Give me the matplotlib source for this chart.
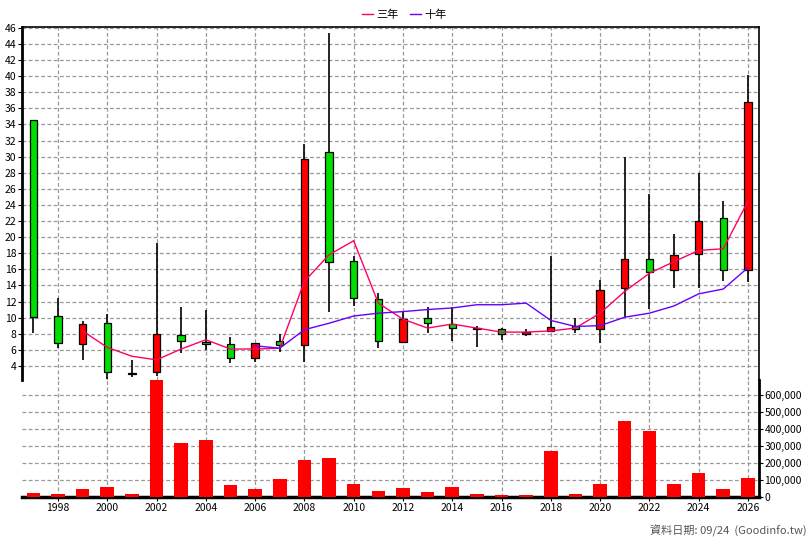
import matplotlib
matplotlib.use("Agg")
import matplotlib.pyplot as plt
from matplotlib.ticker import FuncFormatter

plt.rcParams['font.family'] = ['Noto Sans CJK TC', 'DejaVu Sans']

years = list(range(1997, 2027))
opens = [34.6, 10.2, 6.7, 9.35, 3.1, 3.2, 7.8, 7.0, 6.7, 5.0, 7.1, 6.6, 30.6, 17.0, 12.3,
         7.0, 9.9, 9.2, 8.75, 8.55, 7.95, 8.35, 8.9, 8.55, 13.65, 17.3, 15.9, 17.9, 22.4, 15.9]
closes = [10.1, 6.8, 9.2, 3.2, 3.05, 7.95, 7.1, 6.7, 5.0, 6.8, 6.55, 29.7, 16.9, 12.4, 7.1,
          9.8, 9.3, 8.7, 8.6, 7.95, 8.2, 8.8, 8.55, 13.45, 17.3, 15.65, 17.8, 22.0, 15.9, 36.8]
highs = [34.6, 12.4, 9.6, 10.5, 4.75, 19.3, 11.3, 11.0, 7.6, 6.9, 8.0, 31.6, 45.4, 17.6, 13.0,
         10.75, 11.3, 11.3, 8.95, 8.7, 8.6, 17.6, 9.9, 14.7, 30.0, 25.3, 20.4, 28.0, 24.5, 40.1]
lows = [8.1, 6.2, 4.75, 2.35, 2.6, 2.7, 5.6, 6.0, 4.35, 4.5, 5.75, 4.5, 10.75, 11.5, 6.2,
        7.0, 8.05, 7.15, 6.4, 7.2, 7.7, 8.2, 8.05, 6.8, 10.1, 11.1, 13.65, 13.65, 14.5, 14.4]
ma3_years = list(range(1999, 2027))
ma3 = [8.35, 6.3, 5.2, 4.75, 6.1, 7.25, 6.1, 6.1, 6.2, 14.5, 17.8, 19.55, 11.8, 9.8, 8.7,
       9.2, 8.7, 8.2, 8.2, 8.35, 8.7, 10.55, 13.25, 15.5, 16.95, 18.35, 18.55, 24.45]
ma10_years = list(range(2006, 2027))
ma10 = [6.5, 6.2, 8.5, 9.3, 10.2, 10.55, 10.75, 11.0, 11.2, 11.6, 11.6, 11.8, 9.65, 8.9,
        9.0, 10.05, 10.55, 11.45, 12.95, 13.55, 16.2]
volume = [23000, 15000, 45000, 58000, 15000, 688000, 315000, 332000, 70000, 45000, 105000,
          215000, 227000, 75000, 35000, 52000, 28000, 58000, 17000, 10000, 10000, 268000,
          17000, 75000, 443000, 385000, 75000, 140000, 45000, 110000]

fig = plt.figure(figsize=(8.08, 5.4), dpi=100)
W, H = 808, 540
ax = fig.add_axes([22 / W, 1 - 380 / H, 737 / W, 353 / H])
axv = fig.add_axes([22 / W, 1 - 497 / H, 737 / W, 117 / H], sharex=ax)
axv.patch.set_alpha(0)

grid = dict(color='#999999', linestyle=(0, (3, 2)), linewidth=0.9)
for a in (ax, axv):
    a.grid(True, **grid)
    a.set_axisbelow(True)
    a.tick_params(labelsize=7.5, length=3, pad=1)

for y, o, c, h, l in zip(years, opens, closes, highs, lows):
    ax.vlines(y, l, h, color='black', linewidth=1.2, zorder=3)
    col = '#ff0000' if c > o else '#00dd00'
    ax.bar(y, abs(c - o) if abs(c - o) > 0.1 else 0.1, width=0.3, bottom=min(o, c),
           color=col, edgecolor='black', linewidth=0.9, zorder=4)

ax.plot(ma3_years, ma3, color='#ff0066', linewidth=1, label='三年', zorder=5)
ax.plot(ma10_years, ma10, color='#6600ff', linewidth=1, label='十年', zorder=5)

ax.set_xlim(1996.54, 2026.45)
ax.set_ylim(2.25, 46.1)
ax.set_yticks(range(4, 47, 2))
ax.set_xticks(range(1998, 2027, 2))
ax.tick_params(labelbottom=False, bottom=False)
ax.spines['bottom'].set_visible(False)
ax.spines['top'].set_linewidth(1.2)
ax.spines['right'].set_linewidth(1.2)
ax.spines['left'].set_linewidth(2)

axv.bar(years, volume, width=0.55, color='#ff0000', zorder=3)
axv.set_ylim(0, 685000)
axv.set_yticks(range(0, 600001, 100000))
axv.yaxis.tick_right()
axv.yaxis.set_major_formatter(FuncFormatter(lambda v, p: f'{int(v):,}'))
axv.spines['left'].set_visible(False)
axv.spines['top'].set_visible(False)
axv.spines['bottom'].set_linewidth(2.5)
axv.spines['right'].set_linewidth(2)

fig.legend(loc='upper center', bbox_to_anchor=(0.5, 1.0), ncol=2, frameon=False,
           fontsize=8, handlelength=1, handletextpad=0.3, columnspacing=1)
fig.text(0.998, 0.005, '資料日期: 09/24  (Goodinfo.tw)', ha='right', va='bottom',
         fontsize=8, color='#555555')

fig.savefig('out.png', dpi=100)
